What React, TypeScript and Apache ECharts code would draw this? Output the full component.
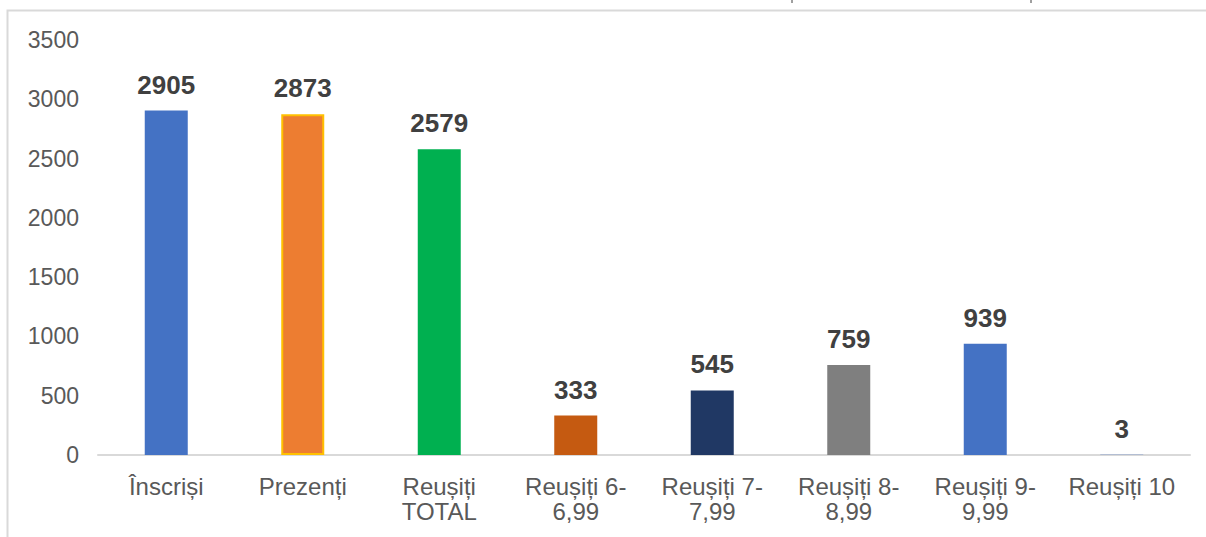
import React, { useEffect, useRef } from "react";
import * as echarts from "echarts";

const categories = [
  "Înscriși",
  "Prezenți",
  "Reușiți\nTOTAL",
  "Reușiți 6-\n6,99",
  "Reușiți 7-\n7,99",
  "Reușiți 8-\n8,99",
  "Reușiți 9-\n9,99",
  "Reușiți 10",
];
const values = [2905, 2873, 2579, 333, 545, 759, 939, 3];
const barColors = ["#4472C4", "#ED7D31", "#00B050", "#C55A11", "#203864", "#7F7F7F", "#4472C4", "#4472C4"];
const barBorders = ["", "#FFC000", "", "", "", "", "", ""];
const yTicks = [0, 500, 1000, 1500, 2000, 2500, 3000, 3500];

export default function App() {
  const ref = useRef<HTMLDivElement>(null);
  useEffect(() => {
    document.body.style.margin = "0";
    const chart = echarts.init(ref.current!, undefined, { renderer: "svg" });
    chart.setOption({
      animation: false,
      backgroundColor: "#ffffff",
      grid: { left: 98, right: 16, top: 40, bottom: 82 },
      graphic: [
        {
          type: "rect",
          shape: { x: 7.5, y: 10.5, width: 1300, height: 600 },
          style: { fill: "none", stroke: "#D9D9D9", lineWidth: 2 },
          silent: true,
        },
        { type: "line", shape: { x1: 792, y1: 0, x2: 792, y2: 3 }, style: { stroke: "#404040", lineWidth: 1 } },
        { type: "line", shape: { x1: 1031, y1: 0, x2: 1031, y2: 3 }, style: { stroke: "#404040", lineWidth: 1 } },
      ],
      xAxis: {
        type: "category",
        data: categories,
        axisLine: { lineStyle: { color: "#D9D9D9", width: 2 } },
        axisTick: { show: false },
        axisLabel: {
          color: "#595959",
          fontSize: 24,
          fontFamily: "Liberation Sans, Arial, sans-serif",
          lineHeight: 25,
          margin: 19,
          interval: 0,
        },
      },
      yAxis: {
        type: "value",
        min: yTicks[0],
        max: yTicks[yTicks.length - 1],
        interval: 500,
        splitLine: { show: false },
        axisLine: { show: false },
        axisTick: { show: false },
        axisLabel: {
          color: "#595959",
          fontSize: 23,
          fontFamily: "Liberation Sans, Arial, sans-serif",
          margin: 19,
          formatter: (v: number) => String(v),
        },
      },
      series: [
        {
          type: "bar",
          barWidth: 43,
          data: values.map((v, i) => ({
            value: v,
            itemStyle: {
              color: barColors[i],
              borderColor: barBorders[i] || barColors[i],
              borderWidth: barBorders[i] ? 2 : 0,
            },
          })),
          label: {
            show: true,
            position: "top",
            distance: 13,
            color: "#404040",
            fontSize: 26,
            fontWeight: "bold",
            fontFamily: "Liberation Sans, Arial, sans-serif",
          },
        },
      ],
    });
    return () => chart.dispose();
  }, []);
  return <div ref={ref} style={{ width: 1206, height: 537, position: "absolute", left: 0, top: 0 }} />;
}
